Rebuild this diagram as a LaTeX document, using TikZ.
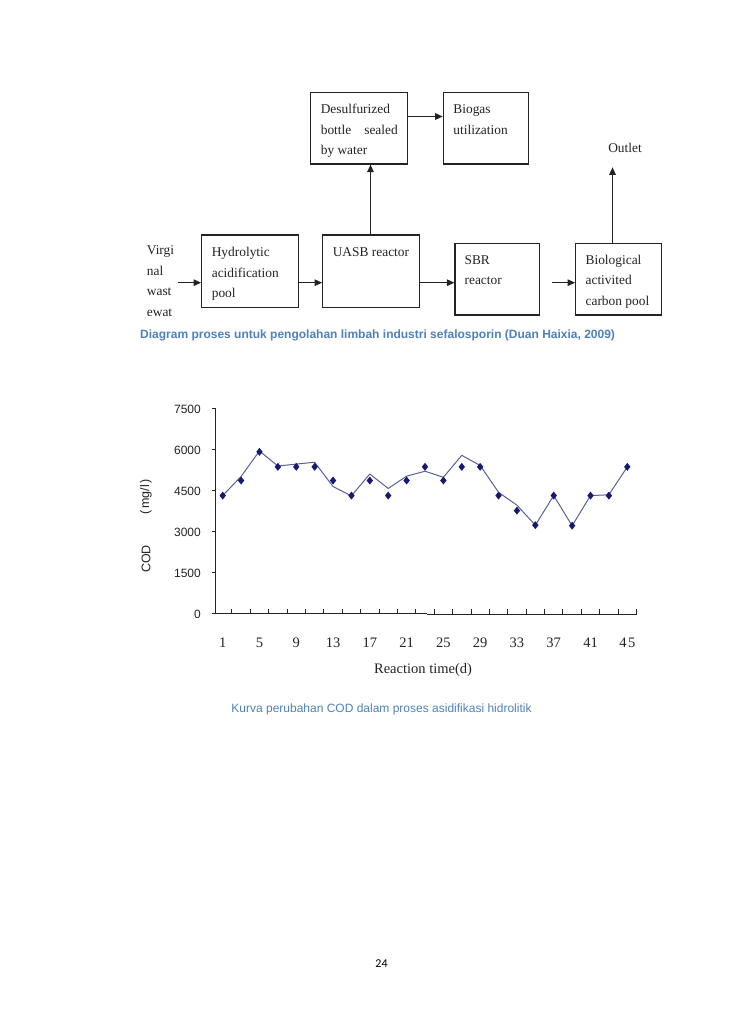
\documentclass[tikz,border=0pt]{standalone}
\usepackage{fontspec}
\setmainfont{Liberation Serif}
\newfontfamily\arialf{Liberation Sans}
\newfontfamily\carlitof{Carlito}
\usetikzlibrary{arrows.meta,calc}
\definecolor{capblue}{RGB}{79,129,189}
\definecolor{markblue}{RGB}{22,26,112}
\definecolor{lineblue}{RGB}{92,96,152}
\definecolor{ink}{RGB}{35,35,35}
\begin{document}
\begin{tikzpicture}[x=1pt,y=-1pt,
  box/.style={draw=ink,line width=1.2pt,inner sep=0pt,rectangle},
  boxtext/.style={anchor=north west,inner sep=0pt,align=left,text=ink,
    font=\fontsize{13.4}{20.5}\selectfont},
  flow/.style={draw=ink,line width=1.2pt,-{Triangle[length=7.5pt,width=6.5pt]}},
  axisline/.style={draw=ink,line width=0.9pt},
  ylab/.style={anchor=east,inner sep=0pt,text=ink,font=\arialf\fontsize{12}{12}\selectfont},
  xlab/.style={anchor=center,inner sep=0pt,text=ink,font=\fontsize{14.5}{14.5}\selectfont},
  caption/.style={inner sep=0pt,text=capblue,font=\arialf\fontsize{12}{14}\selectfont}
]
\useasboundingbox (0,0) rectangle (728,1030);
\fill[white] (0,0) rectangle (728,1030);

% ---------------- flow chart ----------------
\node[box,minimum width=96.6pt,minimum height=71.3pt] (desulf) at (359,128.35) {};
\node[box,minimum width=85pt,minimum height=71.3pt] (biogas) at (485.8,128.35) {};
\node[box,minimum width=96.6pt,minimum height=72.3pt] (hyd) at (250,271.15) {};
\node[box,minimum width=96.6pt,minimum height=72.3pt] (uasb) at (371,271.15) {};
\node[box,minimum width=84.3pt,minimum height=71.7pt] (sbr) at (497.15,279.15) {};
\node[box,minimum width=86pt,minimum height=71.7pt] (bio) at (618.7,279.15) {};

\node[boxtext] (tdesulf) at ($(desulf.north west)+(10.5,7)$) {\strut Desulfurized\\bottle\hspace{13pt}sealed\\by water};
\node[boxtext] (tbiogas) at ($(biogas.north west)+(10.5,7)$) {\strut Biogas\\utilization};
\node[boxtext] (thyd) at ($(hyd.north west)+(10.5,8)$) {\strut Hydrolytic\\acidification\\pool};
\node[boxtext] (tuasb) at ($(uasb.north west)+(10.5,8)$) {\strut UASB reactor};
\node[boxtext] (tsbr) at ($(sbr.north west)+(10,7)$) {\strut SBR\\reactor};
\node[boxtext] (tbio) at ($(bio.north west)+(10.3,7)$) {\strut Biological\\activited\\carbon pool};
\node[boxtext] (tin) at (146.7,240.3) {\strut Virgi\\nal\\wast\\ewat};
\node[inner sep=0pt,text=ink,font=\fontsize{13.4}{13.4}\selectfont] (outlet) at (625,147.7) {Outlet};

\coordinate (inStart) at (178.3,282.7);
\coordinate (dbY) at (0,116.5);
\coordinate (gapStart) at (551.7,282.7);
\coordinate (outTip) at (612.5,167.3);
\coordinate (upX) at (370.5,0);

\draw[flow] (inStart) -- (inStart -| hyd.west);
\draw[flow] (hyd.east |- inStart) -- (uasb.west |- inStart);
\draw[flow] (uasb.east |- inStart) -- (sbr.west |- inStart);
\draw[flow] (gapStart) -- (gapStart -| bio.west);
\draw[flow] (upX |- uasb.north) -- (upX |- desulf.south);
\draw[flow] (desulf.east |- dbY) -- (biogas.west |- dbY);
\draw[flow] (outTip |- bio.north) -- (outTip);

\node[caption,anchor=west] (cap1) at (140,335) {\bfseries Diagram proses untuk pengolahan limbah industri sefalosporin (Duan Haixia, 2009)};

% ---------------- chart ----------------
\draw[axisline] (215,408) -- (215,613.3) -- (426.7,613.3);
\draw[axisline] (426.7,614.5) -- (636.5,614.5);
\foreach \v in {0,1500,3000,4500,6000,7500}
  \draw[axisline] (211.5,{613.3-\v*0.027373}) -- (215,{613.3-\v*0.027373});
\foreach \d in {2,4,...,46}
  \draw[axisline] ({222.7+(\d-1)*9.195},613.5) -- ({222.7+(\d-1)*9.195},609);

\foreach \v/\t in {0/0,1500/1500,3000/3000,4500/4500,6000/6000,7500/7500}
  \node[ylab] (y\v) at (201,{614.5-\v*0.027373}) {\t};
\foreach \d in {1,5,9,13,17,21,25,29,33,37,41}
  \node[xlab] (x\d) at ({222.7+(\d-1)*9.195},643) {\d};
\node[xlab] (x45) at ({222.7+44*9.195},643) {4\hspace{1.5pt}5};
\node[xlab] (xtitle) at (423,670.5) {Reaction time(d)};
\node[inner sep=0pt,rotate=90,text=ink,font=\arialf\fontsize{12.5}{12.5}\selectfont] (ycod) at (146,559) {COD};
\node[inner sep=0pt,rotate=90,text=ink,font=\arialf\fontsize{12.5}{12.5}\selectfont] (yunit) at (146,497) {(\hspace{2pt}mg/l\hspace{2pt})};

\draw[lineblue,line width=1pt,line join=round] (222.7,{613.3-4300*0.027373})
  \foreach \d/\v in {3/5000,5/5930,7/5380,9/5450,11/5520,13/4630,15/4290,17/5090,19/4560,21/5010,23/5190,25/4970,27/5770,29/5400,31/4420,33/3950,35/3220,37/4300,39/3200,41/4300,43/4330,45/5350}
  { -- ({222.7+(\d-1)*9.195},{613.3-\v*0.027373}) };

\foreach \d/\v in {1/4300,3/4850,5/5900,7/5350,9/5350,11/5350,13/4850,15/4300,17/4850,19/4300,21/4850,23/5350,25/4850,27/5350,29/5350,31/4300,33/3750,35/3220,37/4300,39/3200,41/4300,43/4300,45/5350}
  \fill[markblue] ({222.7+(\d-1)*9.195},{613.3-\v*0.027373}) ++(0,-4) -- ++(3.2,4) -- ++(-3.2,4) -- ++(-3.2,-4) -- cycle;

\node[caption,anchor=center] (cap2) at (381.5,709) {Kurva perubahan COD dalam proses asidifikasi hidrolitik};

\node[inner sep=0pt,text=black,font=\carlitof\fontsize{12}{12}\selectfont] (page) at (381.5,963.5) {24};
\end{tikzpicture}
\end{document}
